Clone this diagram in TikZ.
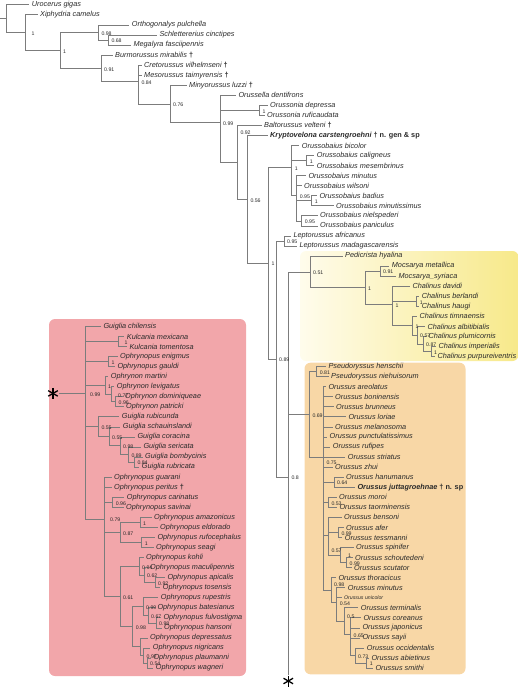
\documentclass[tikz,border=0pt]{standalone}
\usepackage{fontspec}
\setmainfont{Liberation Sans}
\usetikzlibrary{calc}
\definecolor{branchgray}{HTML}{7C7C7C}
\definecolor{taxtext}{HTML}{2A2A2A}
\definecolor{guigliapink}{HTML}{F2A6AA}
\definecolor{orussusorange}{HTML}{F8D7A6}
\definecolor{chalinuspale}{HTML}{FFFCEC}
\definecolor{chalinusyellow}{HTML}{F7E98A}
\newcommand{\extinct}{{\upshape\bfseries †}}
% leaf: name, row, x of text, label
\newcommand{\taxon}[4]{%
  \pgfmathsetmacro\yrow{4.8+10.05*#2}%
  \expandafter\xdef\csname ty@#1\endcsname{\yrow}%
  \node[leaf] (#1) at ({#3-2.5},\yrow) {#4};}
% inner node: name, x, children (y = mean of the children)
\newcommand{\clade}[3]{%
  \gdef\ysum{0}\gdef\nkids{0}%
  \foreach \c in {#3}{%
    \edef\ykid{\csname ty@\c\endcsname}%
    \pgfmathsetmacro\yacc{\ysum+\ykid}\xdef\ysum{\yacc}%
    \pgfmathsetmacro\yacc{\nkids+1}\xdef\nkids{\yacc}}%
  \pgfmathsetmacro\ymean{\ysum/\nkids}%
  \expandafter\xdef\csname ty@#1\endcsname{\ymean}%
  \coordinate (#1) at (#2,\ymean);
  \foreach \c in {#3}{\draw[branch] (#1) |- (\c);}}
\newcommand{\supp}[3][]{\node[post,#1] (s-#2) at (#2) {#3};}

\begin{document}
\begin{tikzpicture}[
    x=1pt, y=-1pt,
    leaf/.style={anchor=west, inner xsep=2.5pt, inner ysep=0.5pt, text=taxtext,
                 font=\fontsize{7.3}{8}\selectfont\itshape},
    post/.style={anchor=west, inner sep=0pt, xshift=3pt, yshift=-1pt, text=taxtext,
                 font=\fontsize{5.2}{6}\selectfont},
    branch/.style={draw=branchgray, line width=0.75pt},
    cutmark/.style={minimum size=11pt, inner sep=0pt,
                    path picture={\foreach \a in {90,30,-30}
                      \draw[line width=1.3pt] (path picture bounding box.center)
                        ++(\a:5.5pt) -- ++(\a+180:11pt);}}
  ]
  \useasboundingbox (0,0) rectangle (520,688);
  % coloured clades
  \fill[guigliapink, rounded corners=6pt] (49,319) rectangle (246,676);
  \fill[orussusorange, rounded corners=6pt] (304.5,362.7) rectangle (465.5,674.3);
  \shade[left color=chalinuspale, right color=chalinusyellow, rounded corners=6pt]
    (300,251) rectangle (518.5,361);

  % outgroups and fossils
  \taxon{urog}{0}{31.7}{Urocerus gigas}
  \taxon{xiph}{1}{40}{Xiphydria camelus}
  \taxon{orth}{2}{131.7}{Orthogonalys pulchella}
  \taxon{schl}{3}{159.3}{Schlettererius cinctipes}
  \taxon{mega}{4}{133.3}{Megalyra fasciipennis}
  \taxon{burm}{5}{115}{Burmorussus mirabilis \extinct}
  \taxon{cret}{6}{144}{Cretorussus vilhelmseni \extinct}
  \taxon{meso}{7}{144}{Mesorussus taimyrensis \extinct}
  \taxon{miny}{8}{189}{Minyorussus luzzi \extinct}
  \taxon{orla}{9}{238.3}{Orussella dentifrons}
  \taxon{ordep}{10}{270}{Orussonia depressa}
  \taxon{orruf}{11}{267}{Orussonia ruficaudata}
  \taxon{balt}{12}{264}{Baltorussus velteni \extinct}
  \taxon{kryp}{13}{270}{\bfseries Kryptovelona carstengroehni {\upshape† n. gen \& sp}}
  % Orussobaius
  \taxon{obbic}{14}{301.7}{Orussobaius bicolor}
  \taxon{obcal}{15}{316.7}{Orussobaius caligneus}
  \taxon{obmes}{16}{316.7}{Orussobaius mesembrinus}
  \taxon{obmin}{17}{308.3}{Orussobaius minutus}
  \taxon{obwil}{18}{304}{Orussobaius wilsoni}
  \taxon{obbad}{19}{319.3}{Orussobaius badius}
  \taxon{obmts}{20}{336}{Orussobaius minutissimus}
  \taxon{obnie}{21}{320}{Orussobaius nielspederi}
  \taxon{obpan}{22}{320}{Orussobaius paniculus}
  \taxon{lpafr}{23}{293.3}{Leptorussus africanus}
  \taxon{lpmad}{24}{299.3}{Leptorussus madagascarensis}
  % Chalinus group
  \taxon{pedi}{25}{345}{Pedicrista hyalina}
  \taxon{mcmet}{26}{391.7}{Mocsarya metallica}
  \taxon{mcsyr}{27}{398.3}{Mocsarya\_syriaca}
  \taxon{chdav}{28}{412.3}{Chalinus davidi}
  \taxon{chber}{29}{421.7}{Chalinus berlandi}
  \taxon{chhau}{30}{421.7}{Chalinus haugi}
  \taxon{chtim}{31}{419.3}{Chalinus timnaensis}
  \taxon{chalb}{32}{427.3}{Chalinus albitibialis}
  \taxon{chplu}{33}{428.3}{Chalinus plumicornis}
  \taxon{chimp}{34}{438.3}{Chalinus imperialis}
  \taxon{chpur}{35}{437.3}{Chalinus purpureiventris}
  % Orussus group
  \taxon{pshen}{36}{328.3}{Pseudoryssus henschii}
  \taxon{psnie}{37}{331}{Pseudoryssus niehuisorum}
  \taxon{oare}{38}{328.3}{Orussus areolatus}
  \taxon{obon}{39}{335}{Orussus boninensis}
  \taxon{obru}{40}{336}{Orussus brunneus}
  \taxon{olor}{41}{348.3}{Orussus loriae}
  \taxon{omel}{42}{335}{Orussus melanosoma}
  \taxon{opun}{43}{329.5}{Orussus punctulatissimus}
  \taxon{oruf}{44}{332.7}{Orussus rufipes}
  \taxon{ostr}{45}{347.7}{Orussus striatus}
  \taxon{ozhu}{46}{335}{Orussus zhui}
  \taxon{ohan}{47}{346}{Orussus hanumanus}
  \taxon{ojut}{48}{357.3}{\bfseries Orussus juttagroehnae {\upshape† n. sp}}
  \taxon{omor}{49}{339}{Orussus moroi}
  \taxon{otao}{50}{339.3}{Orussus taorminensis}
  \taxon{oben}{51}{344}{Orussus bensoni}
  \taxon{oafe}{52}{346}{Orussus afer}
  \taxon{otes}{53}{344.7}{Orussus tessmanni}
  \taxon{ospi}{54}{356}{Orussus spinifer}
  \taxon{osch}{55}{355}{Orussus schoutedeni}
  \taxon{oscu}{56}{354}{Orussus scutator}
  \taxon{otho}{57}{338.3}{Orussus thoracicus}
  \taxon{omin}{58}{347.7}{Orussus minutus}
  \taxon{ouni}{59}{344}{\fontsize{5.2}{6}\selectfont Orussus unicolor}
  \taxon{oter}{60}{360.7}{Orussus terminalis}
  \taxon{ocor}{61}{363.3}{Orussus coreanus}
  \taxon{ojap}{62}{362.3}{Orussus japonicus}
  \taxon{osay}{63}{362.3}{Orussus sayii}
  \taxon{oocc}{64}{366.7}{Orussus occidentalis}
  \taxon{oabi}{65}{371.3}{Orussus abietinus}
  \taxon{osmi}{66}{375.3}{Orussus smithi}
  % Guiglia / Ophrynopus group (moved to the left)
  \taxon{gchi}{32}{103.3}{Guiglia chilensis}
  \taxon{kmex}{33}{126.7}{Kulcania mexicana}
  \taxon{ktom}{34}{129.3}{Kulcania tomentosa}
  \taxon{penig}{35}{120}{Ophrynopus enigmus}
  \taxon{pgau}{36}{117.3}{Ophrynopus gauldi}
  \taxon{nmar}{37}{110.7}{Ophrynon martini}
  \taxon{nlev}{38}{116.7}{Ophrynon levigatus}
  \taxon{ndom}{39}{125}{Ophrynon dominiqueae}
  \taxon{npat}{40}{126}{Ophrynon patricki}
  \taxon{grub}{41}{121.7}{Guiglia rubicunda}
  \taxon{gsch}{42}{122.7}{Guiglia schauinslandi}
  \taxon{gcor}{43}{137.3}{Guiglia coracina}
  \taxon{gser}{44}{143.3}{Guiglia sericata}
  \taxon{gbom}{45}{145}{Guiglia bombycinis}
  \taxon{grbr}{46}{141.7}{Guiglia rubricata}
  \taxon{pgua}{47}{114}{Ophrynopus guarani}
  \taxon{pper}{48}{114}{Ophrynopus peritus \extinct}
  \taxon{pcar}{49}{126.7}{Ophrynopus carinatus}
  \taxon{psav}{50}{126}{Ophrynopus savinai}
  \taxon{pama}{51}{154}{Ophrynopus amazonicus}
  \taxon{peld}{52}{160}{Ophrynopus eldorado}
  \taxon{pruf}{53}{157.3}{Ophrynopus rufocephalus}
  \taxon{psea}{54}{156}{Ophrynopus seagi}
  \taxon{pkoh}{55}{146}{Ophrynopus kohli}
  \taxon{pmac}{56}{150}{Ophrynopus maculipennis}
  \taxon{papi}{57}{167.3}{Ophrynopus apicalis}
  \taxon{ptos}{58}{162.7}{Ophrynopus tosensis}
  \taxon{prup}{59}{160.7}{Ophrynopus rupestris}
  \taxon{pbat}{60}{157.3}{Ophrynopus batesianus}
  \taxon{pful}{61}{163.3}{Ophrynopus fulvostigma}
  \taxon{phan}{62}{164}{Ophrynopus hansoni}
  \taxon{pdep}{63}{150}{Ophrynopus depressatus}
  \taxon{pnig}{64}{152.7}{Ophrynopus nigricans}
  \taxon{ppla}{65}{153.3}{Ophrynopus plaumanni}
  \taxon{pwag}{66}{155.7}{Ophrynopus wagneri}

  % clades, from the tips down
  \clade{schmeg}{108.3}{schl,mega}
  \clade{orthmeg}{98.3}{orth,schmeg}
  \clade{orsd}{259.3}{ordep,orruf}
  \clade{obcm}{306.7}{obcal,obmes}
  \clade{obbm}{311.7}{obbad,obmts}
  \clade{obnp}{301.7}{obnie,obpan}
  \clade{obcore}{296.7}{obmin,obwil,obbm,obnp}
  \clade{obaius}{291.7}{obbic,obcm,obcore}
  \clade{lepto}{284}{lpafr,lpmad}
  \clade{mocs}{380}{mcmet,mcsyr}
  \clade{chbh}{416.7}{chber,chhau}
  \clade{chip}{431}{chimp,chpur}
  \clade{chpl}{423}{chplu,chip}
  \clade{chal}{417}{chalb,chpl}
  \clade{chti}{412.3}{chtim,chal}
  \clade{chali}{392.3}{chdav,chbh,chti}
  \clade{mocha}{365}{mocs,chali}
  \clade{yell}{310}{pedi,mocha}
  \clade{pseu}{316.7}{pshen,psnie}
  \clade{ohj}{334}{ohan,ojut}
  \clade{omt}{328.3}{omor,otao}
  \clade{oat}{338.3}{oafe,otes}
  \clade{osc}{346.5}{osch,oscu}
  \clade{osp}{340}{ospi,osc}
  \clade{oben3}{328.3}{oben,oat,osp}
  \clade{ooa}{366.7}{oabi,osmi}
  \clade{ooc}{355}{oocc,ooa}
  \clade{ocj}{350.5}{ocor,ojap,osay,ooc}
  \clade{ote}{344}{oter,ocj}
  \clade{omn}{336.7}{omin,ouni,ote}
  \clade{oth}{331}{otho,omn}
  \clade{orus}{323.3}{oare,obon,obru,olor,omel,opun,oruf,ostr,ozhu,ohj,omt,oben3,oth}
  \clade{orcl}{309.3}{pseu,orus}
  % the fork whose third branch is cut at the star
  \coordinate (lowfork) at (288.3,477);
  \expandafter\xdef\csname ty@lowfork\endcsname{477}
  \node[cutmark] (cutB) at (288.3,681) {};
  \draw[branch] (lowfork) |- (yell);
  \draw[branch] (lowfork) |- (orcl);
  \draw[branch] (lowfork) -- (cutB);
  \clade{n11}{276}{lepto,lowfork}
  \clade{n10}{268.3}{obaius,n11}
  \clade{n9}{247.3}{kryp,n10}
  \clade{n8}{237.3}{balt,n9}
  \clade{n7}{220}{orla,orsd,n8}
  \clade{n6}{170}{miny,n7}
  \clade{n5}{138.3}{cret,meso,n6}
  \clade{n4}{101}{burm,n5}
  \clade{n2}{60}{orthmeg,n4}
  \clade{n1}{25.5}{xiph,n2}
  \clade{root}{6}{urog,n1}
  \coordinate (stem) at ([xshift=-6pt]root);
  \draw[branch] (stem) -- (root);

  % pink clade
  \clade{pkkul}{118.3}{kmex,ktom}
  \clade{pkenig}{108.3}{penig,pgau}
  \clade{pkdp}{115.5}{ndom,npat}
  \clade{pkld}{111}{nlev,pkdp}
  \clade{pkon}{105}{nmar,pkld}
  \clade{pkbr}{134.3}{gbom,grbr}
  \clade{pksb}{128.3}{gser,pkbr}
  \clade{pkcs}{120}{gcor,pksb}
  \clade{pkss}{109}{gsch,pkcs}
  \clade{pkgu}{98.3}{grub,pkss}
  \clade{pkcar}{112.7}{pcar,psav}
  \clade{pkam}{140}{pama,peld}
  \clade{pkrs}{141.7}{pruf,psea}
  \clade{pkae}{120}{pkam,pkrs}
  \clade{pkat}{155}{papi,ptos}
  \clade{pkma}{144}{pmac,pkat}
  \clade{pkkm}{139}{pkoh,pkma}
  \clade{pkfh}{156}{pful,phan}
  \clade{pkbf}{148}{pbat,pkfh}
  \clade{pkrh}{143}{prup,pkbf}
  \clade{pkpw}{147}{ppla,pwag}
  \clade{pknp}{143.5}{pnig,pkpw}
  \clade{pkdw}{140.5}{pdep,pknp}
  \clade{pkrw}{132.7}{pkrh,pkdw}
  \clade{pkkw}{120}{pkkm,pkrw}
  \clade{pkop}{104}{pgua,pper,pkcar,pkae,pkkw}
  \clade{pkroot}{85}{gchi,pkkul,pkenig,pkon,pkgu,pkop}
  \coordinate (cutAx) at (53,0);
  \node[cutmark] (cutA) at (cutAx |- pkroot) {};
  \draw[branch] (cutA) -- (pkroot);

  % support values
  \supp[xshift=3pt]{n1}{1}
  \supp{n2}{1}
  \supp{orthmeg}{0.98}
  \supp{schmeg}{0.68}
  \supp{n4}{0.91}
  \supp{n5}{0.84}
  \supp{n6}{0.76}
  \supp{n7}{0.99}
  \supp{orsd}{1}
  \supp[yshift=31pt]{n8}{0.92}
  \supp{n9}{0.56}
  \supp{n10}{1}
  \supp{obaius}{1}
  \supp{obcm}{1}
  \supp{obcore}{0.95}
  \supp{obbm}{1}
  \supp{obnp}{0.95}
  \supp{lepto}{0.95}
  \supp{n11}{0.89}
  \supp{lowfork}{0.8}
  \supp{yell}{0.51}
  \supp{mocha}{1}
  \supp{mocs}{0.91}
  \supp{chali}{1}
  \supp{chbh}{1}
  \supp{chti}{1}
  \supp{chal}{0.57}
  \supp{chpl}{0.87}
  \supp{chip}{1}
  \supp{orcl}{0.69}
  \supp{pseu}{0.81}
  \supp[yshift=-4pt]{orus}{0.75}
  \supp{ohj}{0.64}
  \supp{omt}{0.53}
  \supp{oat}{0.99}
  \supp[xshift=5pt]{osp}{1}
  \supp{osc}{0.99}
  \supp[yshift=-15pt]{oben3}{0.57}
  \supp[yshift=6pt]{oth}{0.98}
  \supp{omn}{0.54}
  \supp[yshift=6pt]{ote}{0.5}
  \supp{ocj}{0.65}
  \supp{ooc}{0.73}
  \supp{ooa}{1}
  \supp[xshift=2pt]{pkroot}{0.99}
  \supp[xshift=3pt]{pkkul}{1}
  \supp{pkenig}{1}
  \supp{pkon}{1}
  \supp[xshift=4pt]{pkld}{0.77}
  \supp{pkdp}{0.96}
  \supp{pkgu}{0.55}
  \supp{pkss}{0.55}
  \supp{pkcs}{0.98}
  \supp{pksb}{0.89}
  \supp{pkbr}{0.84}
  \supp[xshift=3pt]{pkop}{0.79}
  \supp{pkcar}{0.96}
  \supp{pkam}{1}
  \supp{pkrs}{1}
  \supp{pkae}{0.87}
  \supp{pkkw}{0.61}
  \supp{pkkm}{0.94}
  \supp{pkma}{0.62}
  \supp{pkat}{0.92}
  \supp{pkrw}{0.98}
  \supp{pkrh}{0.99}
  \supp{pkbf}{0.67}
  \supp{pkfh}{0.98}
  \supp{pknp}{0.97}
  \supp{pkpw}{0.54}
\end{tikzpicture}
\end{document}
